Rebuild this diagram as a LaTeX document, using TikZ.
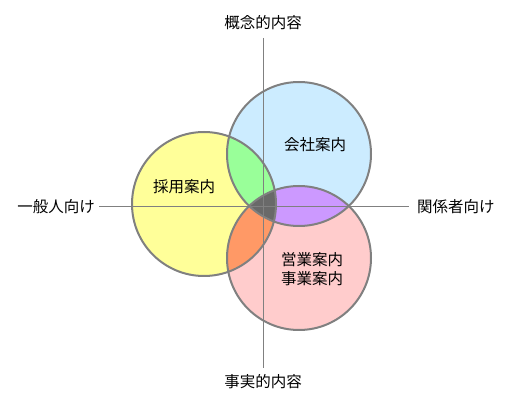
\documentclass[tikz,border=0pt]{standalone}
\usepackage{fontspec}
\setmainfont{Noto Sans CJK JP}
\usetikzlibrary{positioning}

\definecolor{lineGray}{RGB}{128,128,128}
\definecolor{kaishaBlue}{RGB}{204,236,255}
\definecolor{saiyoYellow}{RGB}{255,255,153}
\definecolor{eigyoPink}{RGB}{255,204,204}
\definecolor{mixGreen}{RGB}{153,255,153}
\definecolor{mixPurple}{RGB}{204,153,255}
\definecolor{mixOrange}{RGB}{255,153,102}
\definecolor{mixGray}{RGB}{105,105,105}

\begin{document}
\begin{tikzpicture}[x=1pt, y=-1pt, font=\fontsize{15.5pt}{18.5pt}\selectfont]
      \useasboundingbox[fill=white] (0,0) rectangle (512,403);
      \tikzset{
        area/.style={circle, minimum size=144pt, inner sep=0pt},
        ring/.style={draw=lineGray, line width=2pt},
        axis/.style={draw=lineGray, line width=1pt},
        label/.style={inner sep=0pt, align=center}
      }
      % the three circles
      \node[area, fill=kaishaBlue] (kaisha) at (299,154) {};
      \node[area, fill=saiyoYellow] (saiyo) at (204,204) {};
      \node[area, fill=eigyoPink] (eigyo) at (299,258) {};
      % overlaps
      \begin{scope}
        \clip (kaisha.center) circle (72pt);
        \fill[mixGreen] (saiyo.center) circle (72pt);
        \fill[mixPurple] (eigyo.center) circle (72pt);
      \end{scope}
      \begin{scope}
        \clip (saiyo.center) circle (72pt);
        \fill[mixOrange] (eigyo.center) circle (72pt);
        \clip (eigyo.center) circle (72pt);
        \fill[mixGray] (kaisha.center) circle (72pt);
      \end{scope}
      % axes
      \coordinate (top) at (263,38);
      \coordinate (bottom) at (263,368);
      \coordinate (left) at (99,207);
      \coordinate (right) at (409,207);
      \draw[axis] (top) -- (bottom);
      \draw[axis] (left) -- (right);
      \node[label] (gainen) at (263,23) {概念的内容};
      \node[label] (jijitsu) at (263,382) {事実的内容};
      \node[label, left=4pt of left] (ippan) {一般人向け};
      \node[label, right=8pt of right] (kankei) {関係者向け};
      % outlines
      \foreach \c in {kaisha, saiyo, eigyo}
        \draw[ring] (\c.center) circle (72pt);
      \node[label] (kaishaText) at (315,145) {会社案内};
      \node[label] (saiyoText) at (184,187) {採用案内};
      \node[label] (eigyoText) at (312,269) {営業案内\\事業案内};
    \end{tikzpicture}
\end{document}
